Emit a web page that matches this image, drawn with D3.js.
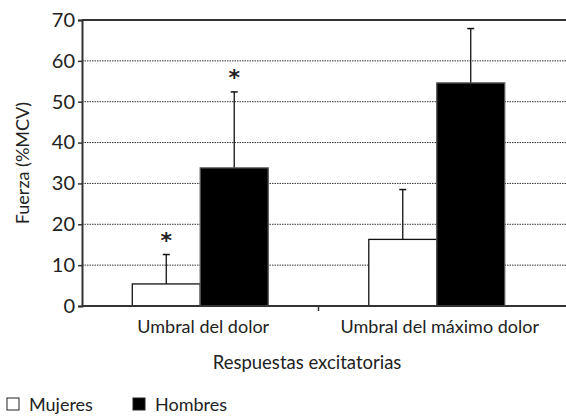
<!DOCTYPE html>
<html>
<head>
<meta charset="utf-8">
<script src="https://cdn.jsdelivr.net/npm/d3@7"></script>
<style>
  body { margin: 0; background: #fff; }
  text { font-family: "Lato", "DejaVu Sans", sans-serif; fill: #222; }
</style>
</head>
<body>
<div id="chart"></div>
<script>
// data
var categories = ["Umbral del dolor", "Umbral del máximo dolor"];
var seriesNames = ["Mujeres", "Hombres"];
var mujeres = [5.4, 16.3];
var hombres = [33.8, 54.6];
var mujeresErr = [12.6, 28.5];   // top of error bar
var hombresErr = [52.4, 67.9];
var signif = [[true, true], [false, false]]; // asterisks per category [mujeres, hombres]
var yTicks = [0, 10, 20, 30, 40, 50, 60, 70];

var width = 566, height = 416;
var margin = {top: 20, right: 11, bottom: 110, left: 82};

var svg = d3.select("#chart").append("svg")
  .attr("width", width)
  .attr("height", height);

var x0 = d3.scaleBand()
  .domain(categories)
  .range([margin.left, width - margin.right])
  .paddingInner(0)
  .paddingOuter(0);

var x1 = d3.scaleBand()
  .domain(seriesNames)
  .range([0, x0.bandwidth()])
  .paddingOuter(0.74)
  .paddingInner(0);

var y = d3.scaleLinear()
  .domain([0, 70])
  .range([height - margin.bottom, margin.top]);

var colors = {"Mujeres": "#fff", "Hombres": "#000"};

// dotted grid
svg.append("g")
  .selectAll("line")
  .data(yTicks.filter(function(d) { return d > 0 && d < 70; }))
  .enter().append("line")
    .attr("x1", margin.left)
    .attr("x2", width)
    .attr("y1", function(d) { return y(d); })
    .attr("y2", function(d) { return y(d); })
    .attr("stroke", "#333")
    .attr("stroke-width", 1)
    .attr("stroke-dasharray", "1.5,1");

// top border
svg.append("line")
  .attr("x1", margin.left).attr("x2", width)
  .attr("y1", y(70)).attr("y2", y(70))
  .attr("stroke", "#333").attr("stroke-width", 2);

// bars
var rows = categories.map(function(c, i) {
  return [
    {cat: c, key: "Mujeres", v: mujeres[i], e: mujeresErr[i], star: signif[i][0]},
    {cat: c, key: "Hombres", v: hombres[i], e: hombresErr[i], star: signif[i][1]}
  ];
});
var flat = [].concat.apply([], rows);

var bars = svg.append("g");

// error bars (behind bars)
bars.selectAll(".err")
  .data(flat)
  .enter().append("line")
    .attr("class", "err")
    .attr("x1", function(d) { return x0(d.cat) + x1(d.key) + x1.bandwidth() / 2; })
    .attr("x2", function(d) { return x0(d.cat) + x1(d.key) + x1.bandwidth() / 2; })
    .attr("y1", function(d) { return y(d.v); })
    .attr("y2", function(d) { return y(d.e); })
    .attr("stroke", "#111").attr("stroke-width", 1.3);

bars.selectAll(".cap")
  .data(flat)
  .enter().append("line")
    .attr("class", "cap")
    .attr("x1", function(d) { return x0(d.cat) + x1(d.key) + x1.bandwidth() / 2 - 3.5; })
    .attr("x2", function(d) { return x0(d.cat) + x1(d.key) + x1.bandwidth() / 2 + 3.5; })
    .attr("y1", function(d) { return y(d.e); })
    .attr("y2", function(d) { return y(d.e); })
    .attr("stroke", "#111").attr("stroke-width", 1.5);

bars.selectAll(".bar")
  .data(flat)
  .enter().append("rect")
    .attr("class", "bar")
    .attr("x", function(d) { return x0(d.cat) + x1(d.key); })
    .attr("width", x1.bandwidth())
    .attr("y", function(d) { return y(d.v); })
    .attr("height", function(d) { return y(0) - y(d.v); })
    .attr("fill", function(d) { return colors[d.key]; })
    .attr("stroke", function(d) { return d.key == "Mujeres" ? "#111" : "#555"; })
    .attr("stroke-width", 1.3);

bars.selectAll(".star")
  .data(flat.filter(function(d) { return d.star; }))
  .enter().append("text")
    .attr("class", "star")
    .attr("x", function(d) { return x0(d.cat) + x1(d.key) + x1.bandwidth() / 2; })
    .attr("y", function(d) { return y(d.e) - 7; })
    .attr("text-anchor", "middle")
    .style("font-size", "22px")
    .style("font-weight", "bold")
    .style("font-family", "DejaVu Sans")
    .text("*");

// y axis
var yAxis = svg.append("g")
  .attr("transform", "translate(" + margin.left + ",0)")
  .call(d3.axisLeft(y).tickValues(yTicks).tickSize(4).tickPadding(3));
yAxis.select(".domain").attr("stroke", "#333").attr("stroke-width", 2);
yAxis.selectAll(".tick line").attr("stroke", "#333").attr("stroke-width", 1.5);
yAxis.selectAll(".tick text").style("font-size", "20px").attr("fill", "#222");

// x axis
var xAxis = svg.append("g")
  .attr("transform", "translate(0," + y(0) + ")")
  .call(d3.axisBottom(x0).tickSize(0).tickPadding(14));
xAxis.select(".domain").attr("stroke", "#333").attr("stroke-width", 2)
  .attr("d", "M" + margin.left + ",0H" + width);
xAxis.selectAll(".tick text").style("font-size", "18px").attr("fill", "#222").attr("dx", 3);

// separator tick between categories
svg.append("line")
  .attr("x1", x0(categories[1])).attr("x2", x0(categories[1]))
  .attr("y1", y(0)).attr("y2", y(0) + 5)
  .attr("stroke", "#333").attr("stroke-width", 1.5);

// axis titles
svg.append("text")
  .attr("transform", "translate(29," + (margin.top + y(0)) / 2 + ") rotate(-90)")
  .attr("text-anchor", "middle")
  .style("font-size", "18px")
  .text("Fuerza (%MCV)");

svg.append("text")
  .attr("x", 307)
  .attr("y", 369)
  .attr("text-anchor", "middle")
  .style("font-size", "18.5px")
  .text("Respuestas excitatorias");

// legend
var legX = [7, 133];
var legend = svg.append("g").selectAll("g")
  .data(seriesNames)
  .enter().append("g")
    .attr("transform", function(d, i) { return "translate(" + legX[i] + ",398)"; });
legend.append("rect")
  .attr("width", 12).attr("height", 12)
  .attr("fill", function(d) { return colors[d]; })
  .attr("stroke", "#222").attr("stroke-width", 1);
legend.append("text")
  .attr("x", 22).attr("y", 13)
  .style("font-size", "18px")
  .text(function(d) { return d; });
</script>
</body>
</html>
